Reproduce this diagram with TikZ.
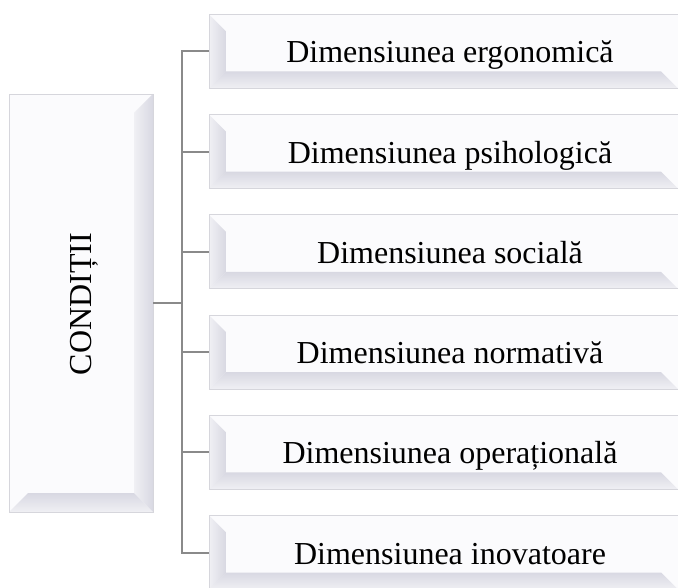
\documentclass[tikz,border=0pt]{standalone}
\usepackage{fontspec}
\setmainfont{Liberation Serif}
\usetikzlibrary{calc}
\definecolor{boxbody}{HTML}{FBFBFD}
\definecolor{boxedge}{HTML}{D6D6DC}
\definecolor{bevin}{HTML}{D8D8E2}
\definecolor{bevout}{HTML}{F0F0F4}
\definecolor{connc}{HTML}{8A8A8A}
\tikzset{
  bigfont/.style={font=\fontsize{32}{36}\selectfont},
  rbox/.style={rectangle, minimum width=469pt, minimum height=74pt, inner sep=0pt,
    fill=boxbody, draw=boxedge, line width=0.8pt, bigfont,
    text height=28pt, text depth=5pt,
    path picture={
      \coordinate (pnw) at (path picture bounding box.north west);
      \coordinate (psw) at (path picture bounding box.south west);
      \coordinate (pse) at (path picture bounding box.south east);
      \shade[left color=bevout, right color=bevin] (pnw) -- ($(pnw)+(17pt,-17pt)$) -- ($(psw)+(17pt,17pt)$) -- (psw) -- cycle;
      \shade[top color=bevin, bottom color=bevout] (psw) -- ($(psw)+(17pt,17pt)$) -- ($(pse)+(-17pt,17pt)$) -- (pse) -- cycle;
    }},
  lbox/.style={rectangle, minimum width=144pt, minimum height=418pt, inner sep=0pt,
    fill=boxbody, draw=boxedge, line width=0.8pt,
    path picture={
      \coordinate (qne) at (path picture bounding box.north east);
      \coordinate (qsw) at (path picture bounding box.south west);
      \coordinate (qse) at (path picture bounding box.south east);
      \shade[left color=bevout, right color=bevin] (qne) -- ($(qne)+(-19pt,-19pt)$) -- ($(qse)+(-19pt,19pt)$) -- (qse) -- cycle;
      \shade[top color=bevin, bottom color=bevout] (qsw) -- ($(qsw)+(19pt,19pt)$) -- ($(qse)+(-19pt,19pt)$) -- (qse) -- cycle;
    }},
  conn/.style={draw=connc, line width=2pt}
}
\begin{document}
\begin{tikzpicture}[x=1pt,y=-1pt]
\useasboundingbox (0,0) rectangle (678,588);
\node[lbox] (L) at (81,303) {};
\node[bigfont, rotate=90, anchor=base, inner sep=0pt] (Lt) at (91,304) {CONDIȚII};
\node[rbox] (b1) at (443.5,51.5) {\hspace*{13pt}Dimensiunea ergonomică};
\node[rbox] (b2) at (443.5,151.7) {\hspace*{13pt}Dimensiunea psihologică};
\node[rbox] (b3) at (443.5,251.9) {\hspace*{13pt}Dimensiunea socială};
\node[rbox] (b4) at (443.5,352.1) {\hspace*{13pt}Dimensiunea normativă};
\node[rbox] (b5) at (443.5,452.3) {\hspace*{13pt}Dimensiunea operațională};
\node[rbox] (b6) at (443.5,552.5) {\hspace*{13pt}Dimensiunea inovatoare};
\coordinate (j) at (182,303);
\draw[conn] (L.east) -- (j);
\draw[conn] (b1.west) -| (j) |- (b6.west);
\foreach \k in {2,3,4,5}{
  \draw[conn] (b\k.west) -- (b\k.west -| j);
}
\end{tikzpicture}
\end{document}
